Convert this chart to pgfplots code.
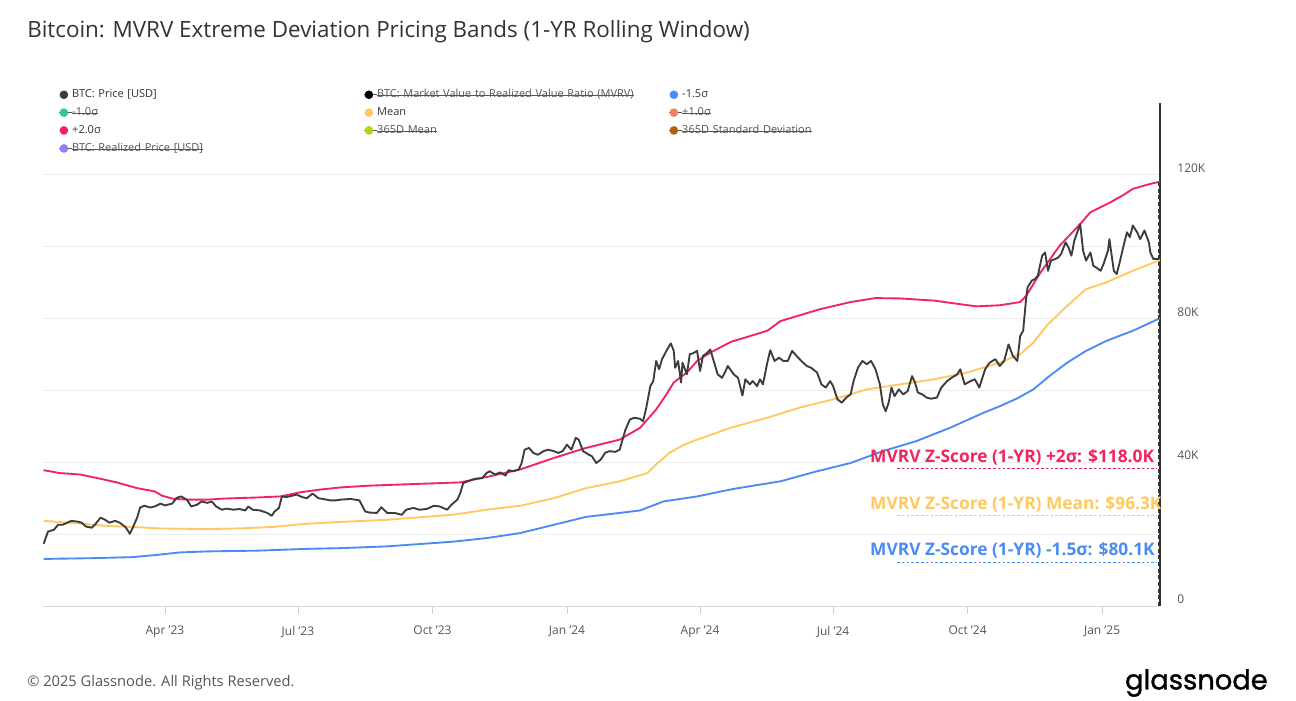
\documentclass[border=0pt]{standalone}
\usepackage{fontspec}
\setmainfont{Open Sans}
\newfontfamily\logofont[FakeBold=1.2]{Poppins}
\usepackage{pgfplots}
\pgfplotsset{compat=1.18}
\usepackage{pgfplotstable}
\newcommand\strk[1]{\leavevmode\setbox0=\hbox{#1}\rlap{\raisebox{0.32ex}{\rule{\wd0}{0.5pt}}}\box0}
\definecolor{btcgray}{HTML}{3C3C3C}
\definecolor{bandred}{HTML}{F2245C}
\definecolor{bandmean}{HTML}{FFC95E}
\definecolor{bandblue}{HTML}{4B8BF5}
\definecolor{tealc}{HTML}{2EC4A0}
\definecolor{orangec}{HTML}{F08060}
\definecolor{limec}{HTML}{B5D40F}
\definecolor{brownc}{HTML}{A8650F}
\definecolor{purplec}{HTML}{9B7BF5}
\definecolor{txtc}{HTML}{333333}
\definecolor{tickc}{HTML}{555555}
\definecolor{gridc}{HTML}{EEEEEE}
\definecolor{axisdark}{HTML}{333333}

\pgfplotstableread{
day val
7 17.3
10 20.7
14 21.2
17 22.6
20 22.6
26 23.7
30 23.5
33 23.2
36 22.1
40 21.8
42 22.6
46 24.6
49 24.0
52 23.2
56 23.7
59 23.2
63 22.0
66 20.1
68 21.8
71 24.6
73 27.4
76 27.9
80 27.4
83 27.7
87 28.5
90 28.0
95 28.5
98 30.1
101 30.5
105 29.6
108 27.7
112 28.2
115 29.1
119 28.7
122 29.1
125 27.7
129 26.8
132 27.1
137 26.8
141 27.0
145 26.6
147 27.7
150 26.8
155 26.6
160 25.9
163 25.1
165 26.3
168 27.3
170 30.5
173 30.3
177 30.7
180 31.0
184 30.3
187 30.0
191 31.3
195 30.0
198 29.8
203 29.4
207 29.4
210 29.6
217 29.8
223 29.4
227 26.3
230 26.0
235 25.9
238 27.5
242 25.9
247 25.9
252 25.4
255 26.8
260 27.3
264 26.8
269 27.0
274 27.9
278 27.7
283 26.8
286 28.2
290 29.6
292 31.4
294 34.2
297 34.7
302 35.4
307 35.6
310 37.0
312 37.5
316 36.6
319 37.2
323 36.3
325 37.8
328 37.5
332 38.0
334 39.8
336 43.5
339 44.0
342 42.6
345 42.1
349 43.1
352 43.5
356 43.1
359 42.6
362 43.1
365 44.9
368 43.5
371 46.8
373 46.3
376 43.1
380 42.1
382 41.7
385 39.8
388 40.7
391 42.6
394 43.1
398 42.9
401 43.5
405 49.1
408 51.9
411 52.4
415 52.1
417 51.4
419 54.7
422 61.2
424 62.6
426 68.2
428 65.9
430 68.7
433 71.0
436 73.1
438 71.0
439 66.3
441 68.2
443 62.2
444 67.7
447 64.5
449 70.1
451 70.3
454 71.0
456 65.4
458 69.6
461 70.5
463 71.4
466 67.3
468 64.5
471 63.5
473 65.0
475 66.8
479 64.5
482 63.5
485 58.6
487 63.1
490 61.7
492 62.6
495 61.2
497 63.1
499 61.7
502 67.7
504 71.2
507 68.2
510 69.1
513 68.2
516 68.2
519 71.0
522 69.6
526 67.9
529 66.8
532 66.3
536 65.0
539 61.7
542 60.8
545 62.6
547 61.2
550 57.5
553 56.6
556 58.0
559 58.9
561 62.6
564 66.3
567 68.2
570 67.3
573 68.2
576 65.9
579 61.7
581 56.1
583 54.2
585 56.6
587 60.8
589 58.4
592 60.3
595 58.9
598 59.8
601 64.0
603 62.2
605 59.4
608 58.9
611 58.0
614 57.7
618 58.0
621 60.8
625 62.6
628 63.5
632 64.5
634 65.9
637 61.7
641 62.6
644 63.1
647 60.8
651 65.9
654 67.7
658 68.7
661 66.8
664 68.2
667 72.8
670 69.6
673 68.2
675 75.2
677 76.6
679 85.4
680 88.7
683 90.6
685 91.0
687 91.9
690 97.5
692 98.4
694 93.3
696 96.1
699 96.6
701 97.0
703 98.0
706 101.2
708 99.8
710 97.5
712 101.7
716 106.3
718 98.9
720 96.1
723 98.4
725 94.7
727 94.2
730 93.3
732 95.2
735 98.9
736 102.1
739 93.3
741 92.4
743 95.6
746 100.8
748 104.0
750 102.7
752 105.9
755 104.0
757 102.1
760 104.5
763 101.2
764 98.4
766 96.6
770 96.6
}\pricetab

\pgfplotstableread{
day val
7 37.8
18 37.0
32 36.6
46 35.4
57 34.4
71 32.8
83 31.9
88 30.7
96 29.8
107 29.6
119 29.6
130 29.9
153 30.2
169 30.5
182 31.6
196 32.4
210 33.0
230 33.5
264 34.0
292 34.4
310 35.9
333 38.0
356 41.2
378 44.0
401 46.3
415 49.6
426 54.7
433 58.9
438 62.2
447 65.0
454 68.2
463 70.5
477 73.5
502 76.6
511 79.3
524 80.9
538 82.6
559 84.6
576 85.7
593 85.6
616 85.0
634 84.0
645 83.4
661 83.7
675 84.6
679 86.3
689 92.9
702 100.3
716 106.3
723 109.6
736 112.2
746 114.5
752 116.1
764 117.5
770.6 118.1
}\redtab

\pgfplotstableread{
day val
7 23.7
27 23.1
50 22.3
73 21.9
85 21.6
119 21.4
141 21.6
164 22.0
187 22.9
210 23.4
242 24.0
287 25.4
310 26.8
333 27.9
356 30.0
378 32.8
401 34.7
420 37.0
426 39.4
435 42.6
445 44.9
454 46.3
477 49.6
502 52.4
524 55.2
547 57.5
570 60.3
593 61.7
616 63.1
638 64.9
661 67.7
675 70.1
684 73.3
693 78.0
707 83.5
720 88.2
734 90.1
752 93.3
770.6 96.3
}\meantab

\pgfplotstableread{
day val
7 13.1
39 13.3
68 13.6
84 14.2
100 14.9
119 15.2
153 15.4
187 15.9
210 16.1
242 16.6
287 17.9
310 18.9
333 20.3
356 22.6
378 24.8
401 25.9
415 26.6
431 29.1
454 30.5
479 32.6
511 34.7
536 37.5
559 39.8
581 43.1
604 45.9
627 49.6
650 53.8
661 55.6
673 57.8
684 60.3
695 64.0
707 67.7
720 71.0
734 73.8
752 76.6
770.6 80.1
}\bluetab

\pgfplotsset{
  dotleg/.style={legend image code/.code={\fill[#1] (3pt,0pt) circle (3pt);}},
  strleg/.style={legend image code/.code={\draw[tickc, line width=0.5pt] (-1pt,0pt)--(9pt,0pt); \fill[#1] (3pt,0pt) circle (3pt);}},
}

\begin{document}
\begin{tikzpicture}
\path[use as bounding box, fill=white] (0pt,0pt) rectangle (972pt,525pt);
\node[anchor=west, inner sep=0pt, text=txtc, font=\fontsize{16.8}{19}\selectfont] at (20.25pt,501pt) {Bitcoin: MVRV Extreme Deviation Pricing Bands (1-YR Rolling Window)};
\begin{axis}[
  scale only axis, width=837.75pt, height=377.25pt,
  at={(32.25pt,70.5pt)}, anchor=south west,
  xmin=6.6, xmax=770.6, ymin=0, ymax=140,
  axis x line*=bottom, axis y line*=right,
  x axis line style={draw=gridc!80!gray, line width=0.6pt, -},
  y axis line style={draw=axisdark, line width=0.8pt, -},
  xtick={90,181,273,365,456,547,639,731},
  xticklabels={Apr '23,Jul '23,Oct '23,Jan '24,Apr '24,Jul '24,Oct '24,Jan '25},
  ytick={0,20,40,60,80,100,120},
  yticklabels={0,,40K,,80K,,120K},
  ymajorgrids, grid style={draw=gridc, line width=0.6pt},
  tick align=outside, major tick length=6pt,
  xtick style={draw=gridc!70!gray, line width=0.4pt},
  ytick style={draw=none},
  xticklabel style={font=\fontsize{9}{11}\selectfont, text=tickc, yshift=-5.5pt},
  yticklabel style={font=\fontsize{9}{11}\selectfont, text=tickc, anchor=west, xshift=3.5pt, yshift=5pt},
  clip mode=individual,
  legend columns=3,
  legend cell align=left,
  legend style={at={(axis description cs:0.0134,1.0298)}, anchor=north west, draw=none, fill=none, inner sep=0pt, row sep=3.75pt,
    nodes={inner xsep=0pt, inner ysep=1pt, text width=218.25pt, align=left, font=\fontsize{8.25}{10}\selectfont, text=txtc}},
]
\addlegendimage{dotleg=btcgray}\addlegendentry{BTC: Price [USD]}
\addlegendimage{strleg=black}\addlegendentry{\textcolor{tickc}{\strk{BTC: Market Value to Realized Value Ratio (MVRV)}}}
\addlegendimage{dotleg=bandblue}\addlegendentry{-1.5σ}
\addlegendimage{strleg=tealc}\addlegendentry{\textcolor{tickc}{\strk{-1.0σ}}}
\addlegendimage{dotleg=bandmean}\addlegendentry{Mean}
\addlegendimage{strleg=orangec}\addlegendentry{\textcolor{tickc}{\strk{+1.0σ}}}
\addlegendimage{dotleg=bandred}\addlegendentry{+2.0σ}
\addlegendimage{strleg=limec}\addlegendentry{\textcolor{tickc}{\strk{365D Mean}}}
\addlegendimage{strleg=brownc}\addlegendentry{\textcolor{tickc}{\strk{365D Standard Deviation}}}
\addlegendimage{strleg=purplec}\addlegendentry{\textcolor{tickc}{\strk{BTC: Realized Price [USD]}}}

\addplot[forget plot, color=bandblue, line width=1.4pt] table[x=day, y=val] {\bluetab};
\addplot[forget plot, color=bandmean, line width=1.4pt] table[x=day, y=val] {\meantab};
\addplot[forget plot, color=bandred, line width=1.4pt] table[x=day, y=val] {\redtab};
\addplot[forget plot, color=btcgray, line width=1.4pt, line join=round] table[x=day, y=val] {\pricetab};
\addplot[forget plot, densely dashed, color=axisdark, line width=0.8pt] coordinates {(769.4,0) (769.4,118.1)};

\draw[draw=bandred, dash pattern=on 2pt off 1.6pt, line width=0.6pt] (axis cs:590.7,38.2) -- (axis cs:768.5,38.2);
\draw[draw=bandmean, dash pattern=on 2pt off 1.6pt, line width=0.6pt] (axis cs:590.7,25.1) -- (axis cs:768.5,25.1);
\draw[draw=bandblue, dash pattern=on 2pt off 1.6pt, line width=0.6pt] (axis cs:590.7,12.0) -- (axis cs:768.5,12.0);
\node[anchor=west, inner sep=0pt, text=bandred, font=\bfseries\fontsize{13}{15}\selectfont] at (axis cs:572.2,41.3) {MVRV Z-Score (1-YR) +2σ: \$118.0K};
\node[anchor=west, inner sep=0pt, text=bandmean, font=\bfseries\fontsize{13}{15}\selectfont] at (axis cs:572.2,28.2) {MVRV Z-Score (1-YR) Mean: \$96.3K};
\node[anchor=west, inner sep=0pt, text=bandblue, font=\bfseries\fontsize{13}{15}\selectfont] at (axis cs:572.2,15.6) {MVRV Z-Score (1-YR) -1.5σ: \$80.1K};
\end{axis}
\node[anchor=west, inner sep=0pt, text=tickc, font=\fontsize{11}{13}\selectfont] at (20.25pt,12.75pt) {© 2025 Glassnode. All Rights Reserved.};
\node[anchor=east, inner sep=0pt, text=black, font=\logofont\fontsize{20.5}{24}\selectfont] at (951pt,12.75pt) {glassnode};
\end{tikzpicture}
\end{document}
